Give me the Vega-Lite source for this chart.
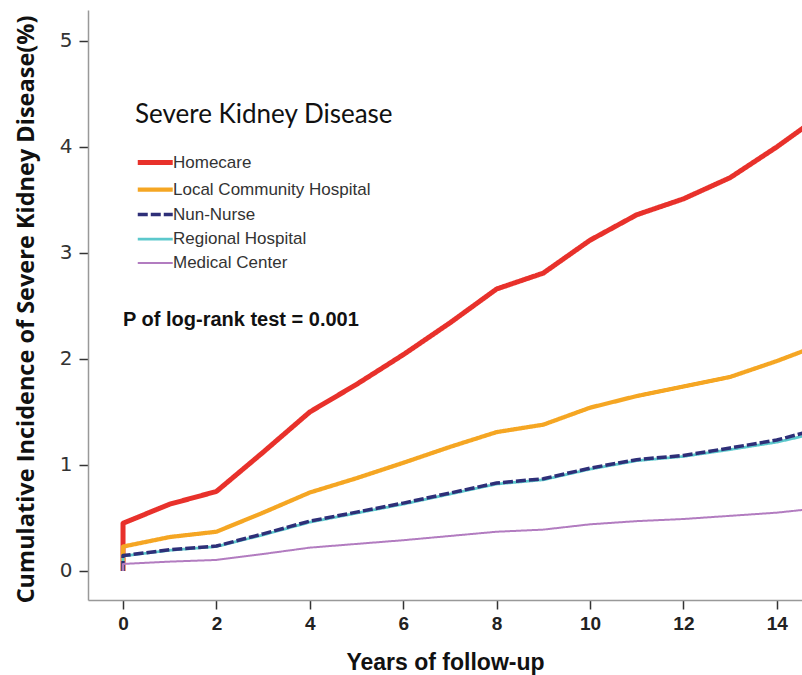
{
  "$schema": "https://vega.github.io/schema/vega-lite/v6.json",
  "width": 714,
  "height": 590,
  "autosize": {"type": "none"},
  "padding": {"left": 88, "top": 10, "right": 0, "bottom": 75},
  "background": "white",
  "config": {
    "view": {"stroke": null},
    "axis": {"grid": false}
  },
  "datasets": {
    "curves": [
      {"g": "Homecare", "x": 0, "y": 0},
      {"g": "Homecare", "x": 0, "y": 0.45},
      {"g": "Homecare", "x": 1, "y": 0.63},
      {"g": "Homecare", "x": 2, "y": 0.75},
      {"g": "Homecare", "x": 3, "y": 1.12},
      {"g": "Homecare", "x": 4, "y": 1.5},
      {"g": "Homecare", "x": 5, "y": 1.76},
      {"g": "Homecare", "x": 6, "y": 2.04},
      {"g": "Homecare", "x": 7, "y": 2.34},
      {"g": "Homecare", "x": 8, "y": 2.66},
      {"g": "Homecare", "x": 9, "y": 2.81},
      {"g": "Homecare", "x": 10, "y": 3.12},
      {"g": "Homecare", "x": 11, "y": 3.36},
      {"g": "Homecare", "x": 12, "y": 3.51},
      {"g": "Homecare", "x": 13, "y": 3.71},
      {"g": "Homecare", "x": 14, "y": 4.0},
      {"g": "Homecare", "x": 14.6, "y": 4.19},
      {"g": "Local Community Hospital", "x": 0, "y": 0},
      {"g": "Local Community Hospital", "x": 0, "y": 0.23},
      {"g": "Local Community Hospital", "x": 1, "y": 0.32},
      {"g": "Local Community Hospital", "x": 2, "y": 0.37},
      {"g": "Local Community Hospital", "x": 3, "y": 0.55},
      {"g": "Local Community Hospital", "x": 4, "y": 0.74},
      {"g": "Local Community Hospital", "x": 5, "y": 0.875},
      {"g": "Local Community Hospital", "x": 6, "y": 1.02},
      {"g": "Local Community Hospital", "x": 7, "y": 1.17},
      {"g": "Local Community Hospital", "x": 8, "y": 1.31},
      {"g": "Local Community Hospital", "x": 9, "y": 1.38},
      {"g": "Local Community Hospital", "x": 10, "y": 1.54},
      {"g": "Local Community Hospital", "x": 11, "y": 1.65},
      {"g": "Local Community Hospital", "x": 12, "y": 1.74},
      {"g": "Local Community Hospital", "x": 13, "y": 1.83},
      {"g": "Local Community Hospital", "x": 14, "y": 1.98},
      {"g": "Local Community Hospital", "x": 14.6, "y": 2.08},
      {"g": "Regional Hospital", "x": 0, "y": 0},
      {"g": "Regional Hospital", "x": 0, "y": 0.14},
      {"g": "Regional Hospital", "x": 1, "y": 0.195},
      {"g": "Regional Hospital", "x": 2, "y": 0.23},
      {"g": "Regional Hospital", "x": 3, "y": 0.34},
      {"g": "Regional Hospital", "x": 4, "y": 0.46},
      {"g": "Regional Hospital", "x": 5, "y": 0.545},
      {"g": "Regional Hospital", "x": 6, "y": 0.63},
      {"g": "Regional Hospital", "x": 7, "y": 0.725},
      {"g": "Regional Hospital", "x": 8, "y": 0.82},
      {"g": "Regional Hospital", "x": 9, "y": 0.86},
      {"g": "Regional Hospital", "x": 10, "y": 0.96},
      {"g": "Regional Hospital", "x": 11, "y": 1.04},
      {"g": "Regional Hospital", "x": 12, "y": 1.08},
      {"g": "Regional Hospital", "x": 13, "y": 1.145},
      {"g": "Regional Hospital", "x": 14, "y": 1.215},
      {"g": "Regional Hospital", "x": 14.6, "y": 1.275},
      {"g": "Nun-Nurse", "x": 0, "y": 0},
      {"g": "Nun-Nurse", "x": 0, "y": 0.145},
      {"g": "Nun-Nurse", "x": 1, "y": 0.2},
      {"g": "Nun-Nurse", "x": 2, "y": 0.235},
      {"g": "Nun-Nurse", "x": 3, "y": 0.35},
      {"g": "Nun-Nurse", "x": 4, "y": 0.47},
      {"g": "Nun-Nurse", "x": 5, "y": 0.555},
      {"g": "Nun-Nurse", "x": 6, "y": 0.64},
      {"g": "Nun-Nurse", "x": 7, "y": 0.735},
      {"g": "Nun-Nurse", "x": 8, "y": 0.83},
      {"g": "Nun-Nurse", "x": 9, "y": 0.87},
      {"g": "Nun-Nurse", "x": 10, "y": 0.97},
      {"g": "Nun-Nurse", "x": 11, "y": 1.05},
      {"g": "Nun-Nurse", "x": 12, "y": 1.09},
      {"g": "Nun-Nurse", "x": 13, "y": 1.16},
      {"g": "Nun-Nurse", "x": 14, "y": 1.235},
      {"g": "Nun-Nurse", "x": 14.6, "y": 1.305},
      {"g": "Medical Center", "x": 0, "y": 0},
      {"g": "Medical Center", "x": 0, "y": 0.066},
      {"g": "Medical Center", "x": 1, "y": 0.088},
      {"g": "Medical Center", "x": 2, "y": 0.104},
      {"g": "Medical Center", "x": 3, "y": 0.16},
      {"g": "Medical Center", "x": 4, "y": 0.22},
      {"g": "Medical Center", "x": 5, "y": 0.255},
      {"g": "Medical Center", "x": 6, "y": 0.29},
      {"g": "Medical Center", "x": 7, "y": 0.33},
      {"g": "Medical Center", "x": 8, "y": 0.37},
      {"g": "Medical Center", "x": 9, "y": 0.39},
      {"g": "Medical Center", "x": 10, "y": 0.44},
      {"g": "Medical Center", "x": 11, "y": 0.47},
      {"g": "Medical Center", "x": 12, "y": 0.49},
      {"g": "Medical Center", "x": 13, "y": 0.52},
      {"g": "Medical Center", "x": 14, "y": 0.55},
      {"g": "Medical Center", "x": 14.6, "y": 0.578}
    ],
    "note": [{"label": "P of log-rank test = 0.001"}]
  },
  "layer": [
    {
      "data": {"name": "curves"},
      "mark": {"type": "line", "clip": true, "strokeJoin": "round", "strokeCap": "butt"},
      "encoding": {
        "x": {
          "field": "x", "type": "quantitative",
          "scale": {"domain": [-0.75, 14.54], "nice": false, "zero": false},
          "axis": {
            "values": [0, 2, 4, 6, 8, 10, 12, 14],
            "format": "d",
            "title": "Years of follow-up",
            "titleFont": "Liberation Sans",
            "titleFontWeight": "bold",
            "titleFontSize": 23,
            "titleColor": "#111",
            "titleBaseline": "middle",
            "titleY": 62,
            "labelFont": "Liberation Sans",
            "labelFontWeight": "bold",
            "labelFontSize": 19,
            "labelColor": "#222",
            "labelPadding": 5,
            "domainColor": "#999",
            "domainWidth": 1.5,
            "tickColor": "#333",
            "tickWidth": 1.5,
            "tickSize": 9
          }
        },
        "y": {
          "field": "y", "type": "quantitative",
          "scale": {"domain": [-0.274, 5.292], "nice": false, "zero": false},
          "axis": {
            "values": [0, 1, 2, 3, 4, 5],
            "format": "d",
            "title": "Cumulative Incidence of Severe Kidney Disease(%)",
            "titleFont": "Open Sans",
            "titleFontWeight": "bold",
            "titleFontSize": 23.5,
            "titleColor": "#111",
            "titleBaseline": "middle",
            "titleLimit": 700,
            "titleX": -62,
            "titleY": 299,
            "labelFont": "DejaVu Sans",
            "labelFontSize": 20,
            "labelColor": "#333",
            "labelPadding": 7,
            "domainColor": "#999",
            "domainWidth": 1.5,
            "tickColor": "#333",
            "tickWidth": 1.5,
            "tickSize": 9
          }
        },
        "order": {"field": "y", "type": "quantitative"},
        "color": {
          "field": "g", "type": "nominal",
          "scale": {
            "domain": ["Homecare", "Local Community Hospital", "Nun-Nurse", "Regional Hospital", "Medical Center"],
            "range": ["#e8312b", "#f5a623", "#2e2f78", "#5cc8cc", "#b27cc0"]
          },
          "legend": {
            "title": "Severe Kidney Disease",
            "orient": "none",
            "legendX": 47,
            "legendY": 92,
            "titleFont": "Lato",
            "titleFontSize": 26,
            "titleFontWeight": "normal",
            "titleColor": "#111",
            "titleLimit": 600,
            "titlePadding": 23,
            "titleAnchor": "start",
            "symbolType": "M-1,0H3",
            "symbolSize": 306,
            "labelFont": "Liberation Sans",
            "labelFontSize": 17,
            "labelColor": "#333",
            "labelLimit": 600,
            "labelOffset": 15,
            "rowPadding": 5.5
          }
        },
        "strokeDash": {
          "field": "g", "type": "nominal",
          "scale": {
            "domain": ["Homecare", "Local Community Hospital", "Nun-Nurse", "Regional Hospital", "Medical Center"],
            "range": [[1, 0], [1, 0], [10, 3], [1, 0], [1, 0]]
          },
          "legend": null
        },
        "strokeWidth": {
          "field": "g", "type": "nominal",
          "scale": {
            "domain": ["Homecare", "Local Community Hospital", "Nun-Nurse", "Regional Hospital", "Medical Center"],
            "range": [5, 2, 2.5, 2.5, 2]
          },
          "legend": null
        }
      }
    },
    {
      "data": {"name": "note"},
      "mark": {"type": "text", "align": "left", "baseline": "middle", "font": "Liberation Sans", "fontWeight": "bold", "fontSize": 20, "color": "#111"},
      "encoding": {
        "x": {"datum": 0.0, "type": "quantitative"},
        "y": {"datum": 2.37, "type": "quantitative"},
        "text": {"field": "label"}
      }
    }
  ]
}
